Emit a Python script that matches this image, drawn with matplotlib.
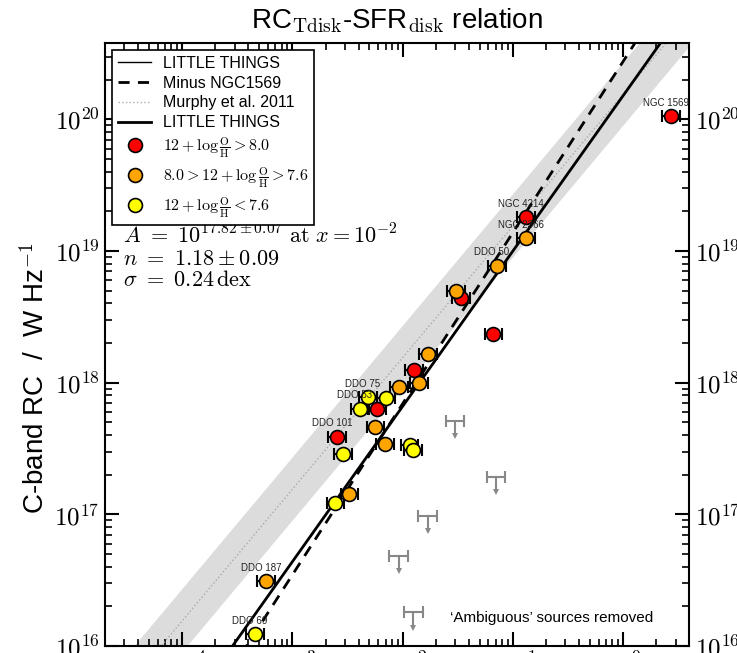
import matplotlib
matplotlib.use("Agg")
import matplotlib.pyplot as plt
import matplotlib.ticker as ticker
from matplotlib.lines import Line2D
import numpy as np

plt.rcParams["font.family"] = ["Liberation Sans", "DejaVu Sans"]
plt.rcParams["mathtext.fontset"] = "cm"

# --- data (SFR_disk in Msun/yr, RC in W/Hz) ---
red_sfr = [2.71, 0.131, 0.0337, 0.0667, 0.01265, 0.00588, 0.00253]
red_rc = [1.06e20, 1.81e19, 4.38e18, 2.35e18, 1.24e18, 6.35e17, 3.88e17]
red_names = ["NGC 1569", "NGC 4214", "", "", "", "", "DDO 101"]

orange_sfr = [0.132, 0.0715, 0.0304, 0.0171, 0.01412, 0.0093, 0.00566, 0.00694, 0.00329, 5.74e-4]
orange_rc = [1.25e19, 7.74e18, 4.95e18, 1.64e18, 1.0e18, 9.33e17, 4.58e17, 3.44e17, 1.42e17, 3.10e16]
orange_names = ["NGC 2366", "DDO 50", "", "", "", "", "", "", "", "DDO 187"]

yellow_sfr = [0.00704, 0.00483, 0.00409, 0.01157, 0.01245, 0.0029, 0.00246, 4.59e-4]
yellow_rc = [7.6e17, 7.76e17, 6.35e17, 3.39e17, 3.09e17, 2.88e17, 1.21e17, 1.23e16]
yellow_names = ["", "DDO 75", "DDO 53", "", "", "", "", "DDO 69"]

# 'ambiguous' upper limits
ul_sfr = [0.0299, 0.0705, 0.01694, 0.00924, 0.01254]
ul_rc = [5.09e17, 1.93e17, 9.8e16, 4.83e16, 1.8e16]

sfr_err_dex = 0.08
ul_err_dex = 0.085
ul_arrow_dex = 0.115

# fits: log RC = logA + n * log(SFR / 1e-2)
fit_logA, fit_n = 17.82, 1.18
minus_logA, minus_n = 17.84, 1.30
# Murphy et al. 2011 (slope 1) and its band
murphy_logA = 20.19
murphy_band_dex = 0.24

groups = [
    (red_sfr, red_rc, red_names, "#ff0000", r"$12+\log\frac{\mathrm{O}}{\mathrm{H}} > 8.0$"),
    (orange_sfr, orange_rc, orange_names, "#ffa500", r"$8.0 > 12+\log\frac{\mathrm{O}}{\mathrm{H}} > 7.6$"),
    (yellow_sfr, yellow_rc, yellow_names, "#ffff00", r"$12+\log\frac{\mathrm{O}}{\mathrm{H}} < 7.6$"),
]

fig = plt.figure(figsize=(7.37, 6.53), dpi=100)
ax = fig.add_axes([0.1425, 0.0107, 0.793, 0.9233])
ax.set_xscale("log")
ax.set_yscale("log")
ax.set_xlim(2e-5, 4)
ax.set_ylim(1e16, 3.8e20)

xx = np.logspace(-5.5, 1.5, 300)
ax.fill_between(xx, 10 ** (murphy_logA - murphy_band_dex) * xx, 10 ** (murphy_logA + murphy_band_dex) * xx,
                color="#dcdcdc", lw=0, zorder=1)
ax.plot(xx, 10 ** murphy_logA * xx, ls=":", color="#aaaaaa", lw=1, zorder=2)
ax.plot(xx, 10 ** fit_logA * (xx / 1e-2) ** fit_n, color="k", lw=2, zorder=3)
ax.plot(xx, 10 ** minus_logA * (xx / 1e-2) ** minus_n, color="k", lw=2, ls=(0, (4, 3)), zorder=3)

# upper limits
for x, y in zip(ul_sfr, ul_rc):
    xerr = [[x * (1 - 10 ** -ul_err_dex)], [x * (10 ** ul_err_dex - 1)]]
    ax.errorbar([x], [y], xerr=xerr, fmt="none", ecolor="#888888", elinewidth=1.5, capsize=4, capthick=1.5, zorder=4)
    y_end = y * 10 ** -ul_arrow_dex
    ax.plot([x, x], [y, y_end], color="#888888", lw=1.5, zorder=4)
    ax.plot([x], [y_end], marker="v", color="#888888", ms=5, mew=0, zorder=4)

for sfr, rc, names, col, lab in groups:
    sfr = np.array(sfr)
    xerr = [sfr * (1 - 10 ** -sfr_err_dex), sfr * (10 ** sfr_err_dex - 1)]
    ax.errorbar(sfr, rc, xerr=xerr, fmt="none", ecolor="k", elinewidth=1.5, capsize=4, capthick=1.5, zorder=5)
    ax.plot(sfr, rc, "o", ms=10, mfc=col, mec="k", mew=1.2, zorder=6)
    for x, y, name in zip(sfr, rc, names):
        if name:
            ax.annotate(name, (x, y), xytext=(-5, 13.5), textcoords="offset pixels",
                        ha="center", va="center", fontsize=7, color="#222222", zorder=7)

# ticks
log_fmt = ticker.FuncFormatter(lambda v, p: r"$10^{%d}$" % round(np.log10(v)))
ax.xaxis.set_major_formatter(log_fmt)
ax.yaxis.set_major_formatter(log_fmt)
ax.xaxis.set_minor_formatter(ticker.NullFormatter())
ax.yaxis.set_minor_formatter(ticker.NullFormatter())
ax.tick_params(which="both", direction="in", top=True, right=True, labelright=True, labelsize=18)
ax.tick_params(which="major", length=10, width=1.5, pad=4)
ax.tick_params(which="minor", length=5, width=1.2)
for s in ax.spines.values():
    s.set_linewidth(1.5)

ax.set_ylabel(r"C-band RC  /  W Hz$^{-1}$", fontsize=20)
ax.yaxis.set_label_coords(-0.094, 0.444)
ax.set_title(r"RC$_{\mathrm{Tdisk}}$-SFR$_{\mathrm{disk}}$ relation", fontsize=20, pad=11)

# fit parameters
ax.text(0.03, 0.680, r"$A\ =\ 10^{17.82\pm0.07}\ \mathrm{at}\ x = 10^{-2}$", transform=ax.transAxes,
        fontsize=16, va="center", zorder=8)
ax.text(0.03, 0.641, r"$n\ =\ 1.18\pm0.09$", transform=ax.transAxes, fontsize=16, va="center", zorder=8)
ax.text(0.03, 0.607, r"$\sigma\ =\ 0.24\,\mathrm{dex}$", transform=ax.transAxes, fontsize=16, va="center", zorder=8)

ax.text(0.59, 0.046, "\u2018Ambiguous\u2019 sources removed", transform=ax.transAxes, fontsize=11, va="center")

handles = [
    Line2D([], [], color="k", lw=1),
    Line2D([], [], color="k", lw=2, ls=(0, (4, 3))),
    Line2D([], [], color="#aaaaaa", lw=1, ls=":"),
    Line2D([], [], color="k", lw=2),
]
labels = ["LITTLE THINGS", "Minus NGC1569", "Murphy et al. 2011", "LITTLE THINGS"]
for sfr, rc, names, col, lab in groups:
    handles.append(Line2D([], [], ls="none", marker="o", ms=10, mfc=col, mec="k", mew=1.2))
    labels.append(lab)
leg = ax.legend(handles, labels, loc="upper left", fontsize=11.5, frameon=True, fancybox=False,
                edgecolor="k", framealpha=1, borderaxespad=0.45, handlelength=2.1, handletextpad=0.75,
                borderpad=0.35, labelspacing=0.3)
leg.get_frame().set_linewidth(1.2)
leg.set_zorder(10)

fig.savefig("out.png", dpi=100)
